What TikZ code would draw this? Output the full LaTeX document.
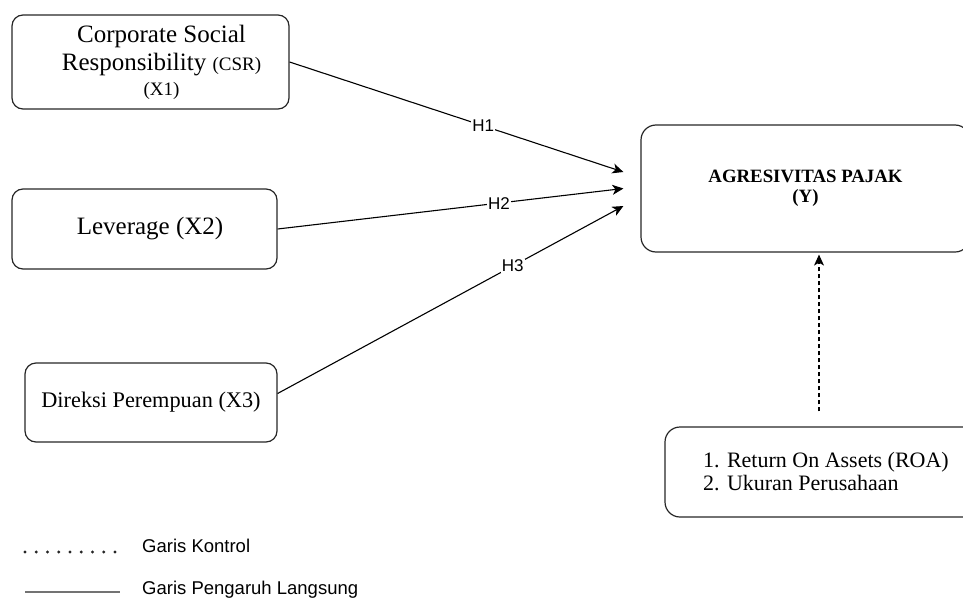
\documentclass[tikz,border=0pt]{standalone}
\usepackage{fontspec}
\setmainfont{Liberation Serif}
\newfontfamily\arialfont{Liberation Sans}
\usetikzlibrary{arrows.meta,positioning}

\begin{document}
\begin{tikzpicture}[
    x=1pt,y=-1pt,
    box/.style={draw=black!85,line width=1.2pt,rounded corners=11pt,align=center,inner sep=0pt},
    hyp/.style={line width=1.1pt,-{Stealth[length=11pt,width=10pt,inset=3pt]}},
    lbl/.style={fill=white,inner sep=1pt,font=\arialfont\fontsize{17}{17}\selectfont},
    legtext/.style={anchor=west,inner sep=0pt,font=\arialfont\fontsize{18.5}{20}\selectfont}
]
\useasboundingbox (0,0) rectangle (963,602);
\clip (0,0) rectangle (963,602);
\node[box,minimum width=277pt,minimum height=94pt,font=\fontsize{25}{28}\selectfont] (csr) at (150.5,62)
    {\hspace*{22pt}Corporate Social\\\hspace*{22pt}Responsibility {\fontsize{19}{22}\selectfont(CSR)}\\[-3pt]\hspace*{22pt}{\fontsize{19}{22}\selectfont(X1)}};
\node[box,minimum width=265pt,minimum height=80pt,font=\fontsize{25}{28}\selectfont] (lev) at (144.5,229) {\hspace*{11pt}Leverage (X2)};
\node[box,minimum width=252pt,minimum height=79pt,font=\fontsize{22.3}{26}\selectfont] (dir) at (151,402.5) {Direksi Perempuan (X3)};
\node[box,rounded corners=15pt,minimum width=329pt,minimum height=127pt,font=\bfseries\fontsize{18.8}{20}\selectfont] (agr) at (805.5,188.5)
    {AGRESIVITAS PAJAK\\(Y)};
\node[box,rounded corners=15pt,minimum width=322pt,minimum height=90pt,align=left,font=\fontsize{22}{23}\selectfont] (ctrl) at (826,472)
    {1. Return On Assets (ROA)\\2. Ukuran Perusahaan};
\coordinate (h1end) at ([xshift=-17pt,yshift=16.5pt]agr.west);
\coordinate (h2end) at ([xshift=-17pt]agr.west);
\coordinate (h3end) at ([xshift=-17pt,yshift=-17.5pt]agr.west);
\coordinate (ctrltop) at ([xshift=-7pt,yshift=15pt]ctrl.north);
\draw[hyp] (csr.east) -- node[lbl,pos=0.58]{H1} (h1end);
\draw[hyp] (lev.east) -- node[lbl,pos=0.64]{H2} (h2end);
\draw[hyp] ([yshift=9pt]dir.east) -- node[lbl,pos=0.68]{H3} (h3end);
\draw[line width=1.1pt,dash pattern=on 4pt off 3pt,-{Stealth[length=11pt,width=10pt,inset=3pt]}] (ctrltop) -- ([yshift=-2pt]ctrltop |- agr.south);
\coordinate (dotstart) at (25,552);
\foreach \i in {0,...,8}
    \fill[black!85] ([xshift=11.25*\i pt]dotstart) circle (1.6pt);
\node[legtext] (kontrol) at (142,546) {Garis Kontrol};
\coordinate (linestart) at (25,592);
\draw[line width=2.8pt,black!55] (linestart) -- (linestart -| 120,0);
\node[legtext] (langsung) at (142,590) {Garis Pengaruh Langsung};
\end{tikzpicture}
\end{document}
